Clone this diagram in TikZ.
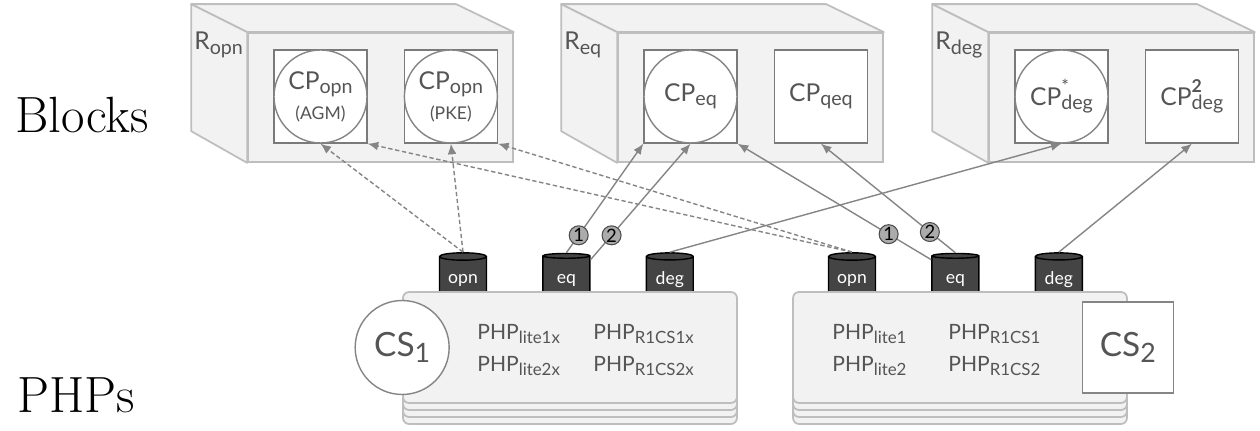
\documentclass[tikz,border=0pt]{standalone}
\usepackage{fontspec}
\newfontfamily\labelfont{Lato}
\usetikzlibrary{shapes.geometric, arrows, arrows.meta, positioning}
\usepackage{xcolor}
\definecolor{facegray}{HTML}{F2F2F2}
\definecolor{edgegray}{HTML}{BEBEBE}
\definecolor{boxgray}{HTML}{7A7A7A}
\definecolor{linegray}{HTML}{858585}
\definecolor{textgray}{HTML}{555555}
\definecolor{dbgray}{HTML}{444444}
\definecolor{numgray}{HTML}{ABABAB}
\newcommand{\lsub}[1]{\raisebox{-0.17em}{\scalebox{0.8}{#1}}}
\newcommand{\lsup}[1]{\rlap{\raisebox{0.52em}{\scalebox{0.72}{#1}}}}

\begin{document}
\begin{tikzpicture}[x=0.02cm, y=-0.02cm, font=\labelfont, text=textgray]
    % Styles
    \tikzstyle{front} = [rectangle, draw=edgegray, fill=facegray, line width=1pt, minimum width=5.3cm, minimum height=2.58cm, inner sep=0pt]
    \tikzstyle{face} = [draw=edgegray, fill=facegray, line width=1pt, line join=round]
    \tikzstyle{cpbox} = [rectangle, draw=boxgray, fill=white, line width=0.8pt, minimum size=1.86cm, inner sep=0pt, font=\labelfont\fontsize{14}{16}\selectfont]
    \tikzstyle{cpcirc} = [circle, draw=linegray, fill=white, line width=0.8pt, minimum size=1.86cm, inner sep=0pt, align=center, font=\labelfont\fontsize{14}{16}\selectfont]
    \tikzstyle{rlabel} = [anchor=base west, inner sep=0pt, font=\labelfont\fontsize{14}{16}\selectfont]
    \tikzstyle{db} = [cylinder, shape border rotate=90, aspect=0.25, draw=black, fill=dbgray, text=white, line width=0.8pt, minimum width=0.94cm, minimum height=1cm, inner sep=0pt, font=\labelfont\fontsize{10}{12}\selectfont]
    \tikzstyle{cs} = [rectangle, rounded corners=0.12cm, draw=edgegray, fill=facegray, line width=1pt, minimum width=6.68cm, minimum height=2.22cm]
    \tikzstyle{php} = [anchor=base west, inner sep=0pt, font=\labelfont\fontsize{12}{14}\selectfont]
    \tikzstyle{big} = [inner sep=0pt, anchor=base, text=black, font=\rmfamily\fontsize{29}{35}\selectfont]
    \tikzstyle{line} = [draw=linegray, line width=0.8pt, -{Latex[length=6pt,width=5pt]}]
    \tikzstyle{dline} = [line, dash pattern=on 2.5pt off 1.5pt]
    \tikzstyle{num} = [circle, draw=black!70, fill=numgray, line width=0.6pt, minimum size=0.38cm, inner sep=0pt, text=black, font=\labelfont\fontsize{10.5}{11}\selectfont]

    \useasboundingbox (0,0) rectangle (1260,431);

    % Row titles
    \node [big] (blocks) at (82,133) {Blocks};
    \node [big] (phps) at (76,413) {PHPs};

    % Blocks
    \node [front] (ropn) at (380.5,97.5) {};
    \node [front] (req) at (750.5,97.5) {};
    \node [front] (rdeg) at (1121.5,97.5) {};
    \foreach \b in {ropn, req, rdeg} {
        \draw [face] (\b.north west) -- ++(-56,-28) -- ++(265,0) -- (\b.north east) -- cycle;
        \draw [face] (\b.north west) -- ++(-56,-28) -- ++(0,127) -- (\b.south west) -- cycle;
    }
    \node [rlabel] (ropnlbl) at (194,50) {R\lsub{opn}};
    \node [rlabel] (reqlbl) at (564,50) {R\lsub{eq}};
    \node [rlabel] (rdeglbl) at (935,50) {R\lsub{deg}};

    \node [cpbox] (agmbox) at (320.5,96.5) {};
    \node [cpbox, right=0.72cm of agmbox] (pkebox) {};
    \node [cpcirc] (agm) at (agmbox) {CP\lsub{opn}\\[1pt]{\fontsize{10}{12}\selectfont (AGM)}};
    \node [cpcirc] (pke) at (pkebox) {CP\lsub{opn}\\[1pt]{\fontsize{10}{12}\selectfont (PKE)}};

    \node [cpbox] (eqbox) at (690.5,96.5) {};
    \node [cpbox, right=0.72cm of eqbox] (qeq) {CP\lsub{qeq}};
    \node [cpcirc] (eqc) at (eqbox) {CP\lsub{eq}};

    \node [cpbox] (degbox) at (1061.5,96.5) {};
    \node [cpbox, right=0.72cm of degbox] (deg2) {CP\lsup{\textbf{2}}\lsub{deg}};
    \node [cpcirc] (degc) at (degbox) {CP\lsup{*}\lsub{deg}};

    % Databases
    \node [db] (opnA) at (463,280) {opn};
    \node [db, right=1.1cm of opnA] (eqA) {eq};
    \node [db, right=1.1cm of eqA] (degA) {deg};
    \node [db] (opnB) at (852,280) {opn};
    \node [db, right=1.1cm of opnB] (eqB) {eq};
    \node [db, right=1.1cm of eqB] (degB) {deg};

    % Systems
    \foreach \d in {21,14,7} {
        \node [cs] (cs1l\d) at (570,347.5+\d) {};
        \node [cs] (cs2l\d) at (960,347.5+\d) {};
    }
    \node [cs] (cs1) at (570,347.5) {};
    \node [cs] (cs2) at (960,347.5) {};
    \node [circle, draw=linegray, fill=white, line width=0.8pt, minimum size=1.88cm, font=\labelfont\fontsize{19}{22}\selectfont] (cs1c) at (cs1.west) {CS\lsub{1}};
    \node [rectangle, draw=linegray, fill=white, line width=0.8pt, minimum size=1.82cm, font=\labelfont\fontsize{19}{22}\selectfont] (cs2s) at (cs2.east) {CS\lsub{2}};

    \node [php] (pl1x) at (477,340) {PHP\lsub{lite1x}};
    \node [php] (pl2x) at (477,372) {PHP\lsub{lite2x}};
    \node [php] (pr1x) at (593,340) {PHP\lsub{R1CS1x}};
    \node [php] (pr2x) at (593,372) {PHP\lsub{R1CS2x}};
    \node [php] (pl1) at (832,340) {PHP\lsub{lite1}};
    \node [php] (pl2) at (832,372) {PHP\lsub{lite2}};
    \node [php] (pr1) at (948,340) {PHP\lsub{R1CS1}};
    \node [php] (pr2) at (948,372) {PHP\lsub{R1CS2}};

    % Opening links
    \path [dline] (opnA.north) -- (agm.south);
    \path [dline] (opnA.north) -- (pke.south);
    \path [dline] (opnB.north) -- (agmbox.south east);
    \path [dline] (opnB.north) -- (pkebox.south east);

    % Equality and degree links
    \path [line] (eqA.north) -- node [num, pos=0.16] (n1a) {1} (eqbox.south west);
    \path [line] (eqA.40) -- node [num, pos=0.21] (n2a) {2} (eqc.south);
    \path [line] (degA.north) -- (degc.south);
    \path [line] (eqB.140) -- node [num, pos=0.22] (n1b) {1} (eqbox.south east);
    \path [line] (eqB.north) -- node [num, pos=0.19] (n2b) {2} (qeq.south);
    \path [line] (degB.north) -- (deg2.south);

\end{tikzpicture}
\end{document}
